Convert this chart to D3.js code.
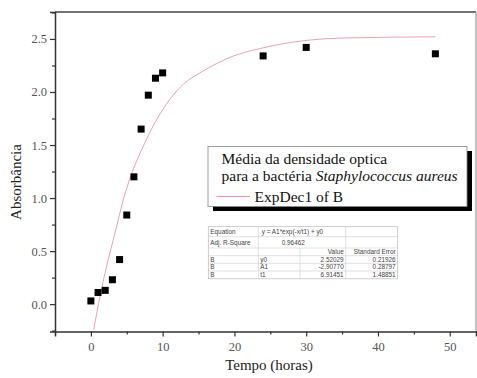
<!DOCTYPE html>
<html>
<head>
<meta charset="utf-8">
<script src="https://cdn.jsdelivr.net/npm/d3@7"></script>
<style>
  body { margin: 0; background: #fff; }
  svg { display: block; }
  .serif { font-family: "Liberation Serif", "Times New Roman", Times, serif; }
</style>
</head>
<body>
<div id="chart"></div>
<script>
// measured points (Tempo em horas vs absorbância)
const timeHours = [0, 1, 2, 3, 4, 5, 6, 7, 8, 9, 10, 24, 30, 48];
const absorbance = [0.03, 0.11, 0.13, 0.23, 0.42, 0.84, 1.2, 1.65, 1.97, 2.13, 2.18, 2.34, 2.42, 2.36];

// fitted ExpDec1 line
const fitTime = [0.4, 1.2, 2.2, 3.4, 4.5, 5.9, 7.1, 9, 11, 13, 15.2, 19.9, 23.6, 29.2, 36.1, 48];
const fitAbs = [-0.24, 0.05, 0.36, 0.68, 0.98, 1.27, 1.46, 1.72, 1.93, 2.08, 2.18, 2.34, 2.41, 2.48, 2.51, 2.52];

const xTicks = [0, 10, 20, 30, 40, 50];
const yTicks = [0, 0.5, 1.0, 1.5, 2.0, 2.5];

const legendLines = ["Média da densidade optica", "para a bactéria ", "Staphylococcus aureus", "ExpDec1 of B"];

const tableRows = [
  ["Equation", "y = A1*exp(-x/t1) + y0", "", ""],
  ["Adj. R-Square", "0.96462", "", ""],
  ["", "", "Value", "Standard Error"],
  ["B", "y0", "2.52029", "0.21926"],
  ["B", "A1", "-2.90770", "0.28797"],
  ["B", "t1", "6.91451", "1.48851"]
];

const width = 477, height = 378;
const plotL = 55, plotR = 476, plotT = 12, plotB = 331.5;

const svg = d3.select("#chart")
  .append("svg")
  .attr("width", width)
  .attr("height", height);

const x = d3.scaleLinear().domain([-5, 53.66]).range([plotL, plotR]);
const y = d3.scaleLinear().domain([-0.258, 2.754]).range([plotB, plotT]);

// clip for the curve
svg.append("clipPath").attr("id", "plot")
  .append("rect")
  .attr("x", plotL).attr("y", plotT)
  .attr("width", plotR - plotL).attr("height", plotB - plotT);

// frame
svg.append("line")
  .attr("x1", plotL).attr("x2", plotR)
  .attr("y1", plotT).attr("y2", plotT)
  .attr("stroke", "#444").attr("stroke-width", 1.6);
svg.append("line")
  .attr("x1", plotR).attr("x2", plotR)
  .attr("y1", plotT).attr("y2", plotB)
  .attr("stroke", "#888").attr("stroke-width", 1);

// x axis
svg.append("g")
  .attr("transform", `translate(0,${plotB})`)
  .call(d3.axisBottom(x).tickValues(xTicks).tickSize(5).tickPadding(6).tickFormat(d3.format("d")));
svg.append("g")
  .attr("transform", `translate(0,${plotB})`)
  .call(d3.axisBottom(x).tickValues([-5, 5, 15, 25, 35, 45]).tickSize(3).tickFormat(""))
  .call(g => g.select(".domain").remove());

// y axis
svg.append("g")
  .attr("transform", `translate(${plotL},0)`)
  .call(d3.axisLeft(y).tickValues(yTicks).tickSize(5).tickPadding(3).tickFormat(d3.format(".1f")));
svg.append("g")
  .attr("transform", `translate(${plotL},0)`)
  .call(d3.axisLeft(y).tickValues([-0.25, 0.25, 0.75, 1.25, 1.75, 2.25, 2.75]).tickSize(3).tickFormat(""))
  .call(g => g.select(".domain").remove());

svg.selectAll("g").attr("font-family", null);
svg.selectAll(".domain").attr("stroke", "#333").attr("stroke-width", 1.5);
svg.selectAll(".tick line").attr("stroke", "#333").attr("stroke-width", 1.2);
svg.selectAll(".tick text")
  .attr("class", "serif")
  .attr("font-size", 12.5)
  .attr("fill", "#555");

// axis titles
svg.append("text")
  .attr("class", "serif")
  .attr("x", 269).attr("y", 370)
  .attr("text-anchor", "middle")
  .attr("font-size", 15)
  .attr("fill", "#222")
  .text("Tempo (horas)");

svg.append("text")
  .attr("class", "serif")
  .attr("transform", "translate(21,182) rotate(-90)")
  .attr("text-anchor", "middle")
  .attr("font-size", 15)
  .attr("fill", "#222")
  .text("Absorbância");

// fit curve
const line = d3.line()
  .x((d, i) => x(fitTime[i]))
  .y(d => y(d))
  .curve(d3.curveMonotoneX);

svg.append("path")
  .attr("clip-path", "url(#plot)")
  .attr("d", line(fitAbs))
  .attr("fill", "none")
  .attr("stroke", "#e4788c")
  .attr("stroke-width", 0.7);

// data squares
const sq = 7;
svg.selectAll("rect.pt")
  .data(timeHours)
  .join("rect")
  .attr("class", "pt")
  .attr("x", d => x(d) - sq / 2)
  .attr("y", (d, i) => y(absorbance[i]) - sq / 2)
  .attr("width", sq)
  .attr("height", sq)
  .attr("fill", "#000");

// legend box with shadow
const lx = 208, ly = 146.5, lw = 259, lh = 60;
svg.append("rect")
  .attr("x", lx + 5).attr("y", ly + 4.5)
  .attr("width", lw).attr("height", lh)
  .attr("fill", "#000");
svg.append("rect")
  .attr("x", lx).attr("y", ly)
  .attr("width", lw).attr("height", lh)
  .attr("fill", "#fff")
  .attr("stroke", "#888")
  .attr("stroke-width", 0.8);

svg.append("text")
  .attr("class", "serif")
  .attr("x", 221.5).attr("y", 163.5)
  .attr("font-size", 15.5).attr("fill", "#111")
  .text(legendLines[0]);
const l2 = svg.append("text")
  .attr("class", "serif")
  .attr("x", 221.5).attr("y", 181)
  .attr("font-size", 15.5).attr("fill", "#111");
l2.append("tspan").text(legendLines[1]);
l2.append("tspan").attr("font-style", "italic").text(legendLines[2]);

svg.append("line")
  .attr("x1", 216.5).attr("x2", 250)
  .attr("y1", 196.5).attr("y2", 196.5)
  .attr("stroke", "#e4788c").attr("stroke-width", 0.8);
svg.append("text")
  .attr("class", "serif")
  .attr("x", 254.5).attr("y", 201.5)
  .attr("font-size", 15.5).attr("fill", "#111")
  .text(legendLines[3]);

// parameter table
const colX = [208.3, 258.3, 300, 345.7, 397.7];
const rowY = [226.7, 236.7, 248, 255.7, 263.3, 271, 278.8, 286.7];
const tbl = svg.append("g");

tbl.append("rect")
  .attr("x", colX[0]).attr("y", rowY[0])
  .attr("width", colX[4] - colX[0]).attr("height", rowY[6] - rowY[0])
  .attr("fill", "#fff")
  .attr("stroke", "#bbb").attr("stroke-width", 0.7);

rowY.slice(1, 6).forEach(ry => {
  tbl.append("line")
    .attr("x1", colX[0]).attr("x2", colX[4])
    .attr("y1", ry).attr("y2", ry)
    .attr("stroke", "#ccc").attr("stroke-width", 0.6);
});
// vertical separators (first two rows span cols 2-3)
tbl.append("line")
  .attr("x1", colX[1]).attr("x2", colX[1])
  .attr("y1", rowY[0]).attr("y2", rowY[6])
  .attr("stroke", "#ccc").attr("stroke-width", 0.6);
tbl.append("line")
  .attr("x1", colX[2]).attr("x2", colX[2])
  .attr("y1", rowY[2]).attr("y2", rowY[6])
  .attr("stroke", "#ccc").attr("stroke-width", 0.6);
tbl.append("line")
  .attr("x1", colX[3]).attr("x2", colX[3])
  .attr("y1", rowY[0]).attr("y2", rowY[6])
  .attr("stroke", "#ccc").attr("stroke-width", 0.6);

tableRows.forEach((row, r) => {
  const cy = (rowY[r] + rowY[r + 1]) / 2 + 2.2;
  row.forEach((cell, c) => {
    if (!cell) return;
    let tx = colX[c] + 2, anchor = "start";
    if (c >= 2) { tx = colX[c + 1] - 2; anchor = "end"; }
    if (r === 1 && c === 1) { tx = 281.7; }
    if (r === 0 && c === 1) { tx = 261.7; }
    tbl.append("text")
      .attr("x", tx).attr("y", cy)
      .attr("text-anchor", anchor)
      .attr("font-family", "Liberation Sans, Arial, sans-serif")
      .attr("font-size", 6.4)
      .attr("fill", "#444")
      .text(cell);
  });
});
</script>
</body>
</html>
